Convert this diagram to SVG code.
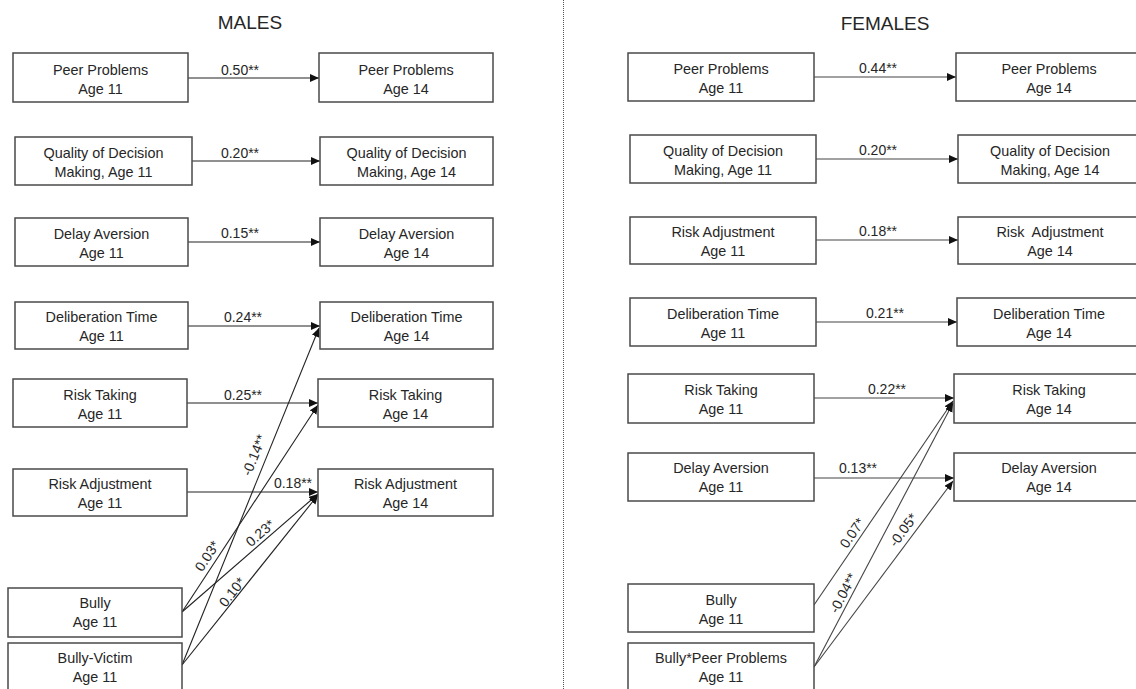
<svg xmlns="http://www.w3.org/2000/svg" width="1136" height="689" viewBox="0 0 1136 689">
<style>
text{font-family:"Liberation Sans",Arial,sans-serif;fill:#262626;}
.t{font-size:14.4px;text-anchor:middle;}
.lbl{font-size:14px;text-anchor:middle;}
.title{font-size:19px;text-anchor:middle;}
.box{fill:#fff;stroke:#4a4a4a;stroke-width:1.5;}
.c{stroke:#222;stroke-width:1.1;fill:none;marker-end:url(#ah);}
.cf{stroke:#444;stroke-width:1.1;fill:none;marker-end:url(#ah);}
</style>
<defs>
<marker id="ah" markerUnits="userSpaceOnUse" markerWidth="10" markerHeight="8" refX="9" refY="4" orient="auto">
<path d="M0,0 L9,4 L0,8 z" fill="#111"/>
</marker>
</defs>
<rect width="1136" height="689" fill="#fff"/>
<line x1="563.5" y1="0" x2="563.5" y2="689" stroke="#555" stroke-width="1" stroke-dasharray="1,1"/>
<text class="title" x="250" y="29">MALES</text>
<text class="title" x="885" y="30">FEMALES</text>

<g id="connectors">
<line class="c" x1="188" y1="78" x2="319" y2="78"/>
<line class="c" x1="192" y1="161" x2="320" y2="161"/>
<line class="c" x1="188" y1="242" x2="320" y2="242"/>
<line class="c" x1="188" y1="326" x2="320" y2="326"/>
<line class="c" x1="187" y1="403" x2="318" y2="403"/>
<line class="c" x1="187" y1="492" x2="318" y2="492"/>
<line class="c" x1="182" y1="665" x2="319" y2="328"/>
<line class="c" x1="182" y1="612" x2="318" y2="405"/>
<line class="c" x1="182" y1="612" x2="318" y2="494"/>
<line class="c" x1="182" y1="665" x2="318" y2="495"/>
<line class="cf" x1="814" y1="77" x2="956" y2="77"/>
<line class="cf" x1="816" y1="159" x2="958" y2="159"/>
<line class="cf" x1="816" y1="240" x2="958" y2="240"/>
<line class="cf" x1="816" y1="322" x2="957" y2="322"/>
<line class="cf" x1="814" y1="398" x2="954" y2="398"/>
<line class="cf" x1="814" y1="478" x2="954" y2="478"/>
<line class="cf" x1="814" y1="605" x2="953" y2="401"/>
<line class="cf" x1="814" y1="667" x2="953" y2="403"/>
<line class="cf" x1="814" y1="667" x2="953" y2="481"/>
<text class="lbl" x="240" y="75">0.50**</text>
<text class="lbl" x="240" y="158">0.20**</text>
<text class="lbl" x="240" y="238">0.15**</text>
<text class="lbl" x="243" y="322">0.24**</text>
<text class="lbl" x="243" y="400">0.25**</text>
<text class="lbl" x="293" y="488">0.18**</text>
<text class="lbl" transform="translate(254,455) rotate(-68)" dy="5">-0.14**</text>
<text class="lbl" transform="translate(207,556) rotate(-57)" dy="5">0.03*</text>
<text class="lbl" transform="translate(260,533) rotate(-41)" dy="5">0.23*</text>
<text class="lbl" transform="translate(232,592) rotate(-51.5)" dy="5">0.10*</text>
<text class="lbl" x="878" y="73">0.44**</text>
<text class="lbl" x="878" y="155">0.20**</text>
<text class="lbl" x="878" y="236">0.18**</text>
<text class="lbl" x="885" y="318">0.21**</text>
<text class="lbl" x="887" y="394">0.22**</text>
<text class="lbl" x="858" y="473">0.13**</text>
<text class="lbl" transform="translate(852,533) rotate(-55.6)" dy="5">0.07*</text>
<text class="lbl" transform="translate(843,593) rotate(-62.3)" dy="5">-0.04**</text>
<text class="lbl" transform="translate(903,530) rotate(-53.4)" dy="5">-0.05*</text>
</g>

<g id="m-pp11"><rect class="box" x="13" y="53" width="175" height="49"/><text class="t" x="100.5" y="75">Peer Problems</text><text class="t" x="100.5" y="94">Age 11</text></g>
<g id="m-pp14"><rect class="box" x="319" y="53" width="174" height="49"/><text class="t" x="406" y="75">Peer Problems</text><text class="t" x="406" y="94">Age 14</text></g>
<g id="m-qdm11"><rect class="box" x="15" y="137" width="177" height="48"/><text class="t" x="103.5" y="158">Quality of Decision</text><text class="t" x="103.5" y="177">Making, Age 11</text></g>
<g id="m-qdm14"><rect class="box" x="320" y="137" width="173" height="48"/><text class="t" x="406.5" y="158">Quality of Decision</text><text class="t" x="406.5" y="177">Making, Age 14</text></g>
<g id="m-da11"><rect class="box" x="15" y="218" width="173" height="48"/><text class="t" x="101.5" y="239">Delay Aversion</text><text class="t" x="101.5" y="258">Age 11</text></g>
<g id="m-da14"><rect class="box" x="320" y="218" width="173" height="48"/><text class="t" x="406.5" y="239">Delay Aversion</text><text class="t" x="406.5" y="258">Age 14</text></g>
<g id="m-dt11"><rect class="box" x="15" y="302" width="173" height="47"/><text class="t" x="101.5" y="322">Deliberation Time</text><text class="t" x="101.5" y="341">Age 11</text></g>
<g id="m-dt14"><rect class="box" x="320" y="302" width="173" height="47"/><text class="t" x="406.5" y="322">Deliberation Time</text><text class="t" x="406.5" y="341">Age 14</text></g>
<g id="m-rt11"><rect class="box" x="13" y="379" width="174" height="48"/><text class="t" x="100" y="400">Risk Taking</text><text class="t" x="100" y="419">Age 11</text></g>
<g id="m-rt14"><rect class="box" x="318" y="379" width="175" height="48"/><text class="t" x="405.5" y="400">Risk Taking</text><text class="t" x="405.5" y="419">Age 14</text></g>
<g id="m-ra11"><rect class="box" x="13" y="469" width="174" height="47"/><text class="t" x="100" y="489">Risk Adjustment</text><text class="t" x="100" y="508">Age 11</text></g>
<g id="m-ra14"><rect class="box" x="318" y="469" width="175" height="47"/><text class="t" x="405.5" y="489">Risk Adjustment</text><text class="t" x="405.5" y="508">Age 14</text></g>
<g id="m-bully"><rect class="box" x="8" y="588" width="174" height="49"/><text class="t" x="95" y="608">Bully</text><text class="t" x="95" y="627">Age 11</text></g>
<g id="m-bv"><rect class="box" x="8" y="643" width="174" height="49"/><text class="t" x="95" y="663">Bully-Victim</text><text class="t" x="95" y="682">Age 11</text></g>

<g id="f-pp11"><rect class="box" x="628" y="53" width="186" height="48"/><text class="t" x="721" y="74">Peer Problems</text><text class="t" x="721" y="93">Age 11</text></g>
<g id="f-pp14"><rect class="box" x="956" y="53" width="186" height="48"/><text class="t" x="1049" y="74">Peer Problems</text><text class="t" x="1049" y="93">Age 14</text></g>
<g id="f-qdm11"><rect class="box" x="630" y="135" width="186" height="48"/><text class="t" x="723" y="156">Quality of Decision</text><text class="t" x="723" y="175">Making, Age 11</text></g>
<g id="f-qdm14"><rect class="box" x="958" y="135" width="186" height="48"/><text class="t" x="1050" y="156">Quality of Decision</text><text class="t" x="1050" y="175">Making, Age 14</text></g>
<g id="f-ra11"><rect class="box" x="630" y="217" width="186" height="47"/><text class="t" x="723" y="237">Risk Adjustment</text><text class="t" x="723" y="256">Age 11</text></g>
<g id="f-ra14"><rect class="box" x="958" y="217" width="186" height="47"/><text class="t" x="1050" y="237">Risk&#160; Adjustment</text><text class="t" x="1050" y="256">Age 14</text></g>
<g id="f-dt11"><rect class="box" x="630" y="298" width="186" height="48"/><text class="t" x="723" y="319">Deliberation Time</text><text class="t" x="723" y="338">Age 11</text></g>
<g id="f-dt14"><rect class="box" x="957" y="298" width="186" height="48"/><text class="t" x="1049" y="319">Deliberation Time</text><text class="t" x="1049" y="338">Age 14</text></g>
<g id="f-rt11"><rect class="box" x="628" y="374" width="186" height="49"/><text class="t" x="721" y="395">Risk Taking</text><text class="t" x="721" y="414">Age 11</text></g>
<g id="f-rt14"><rect class="box" x="954" y="374" width="188" height="49"/><text class="t" x="1049" y="395">Risk Taking</text><text class="t" x="1049" y="414">Age 14</text></g>
<g id="f-da11"><rect class="box" x="628" y="453" width="186" height="48"/><text class="t" x="721" y="473">Delay Aversion</text><text class="t" x="721" y="492">Age 11</text></g>
<g id="f-da14"><rect class="box" x="954" y="453" width="188" height="48"/><text class="t" x="1049" y="473">Delay Aversion</text><text class="t" x="1049" y="492">Age 14</text></g>
<g id="f-bully"><rect class="box" x="628" y="584" width="186" height="48"/><text class="t" x="721" y="605">Bully</text><text class="t" x="721" y="624">Age 11</text></g>
<g id="f-bpp"><rect class="box" x="628" y="643" width="186" height="49"/><text class="t" x="721" y="663">Bully*Peer Problems</text><text class="t" x="721" y="682">Age 11</text></g>
</svg>
